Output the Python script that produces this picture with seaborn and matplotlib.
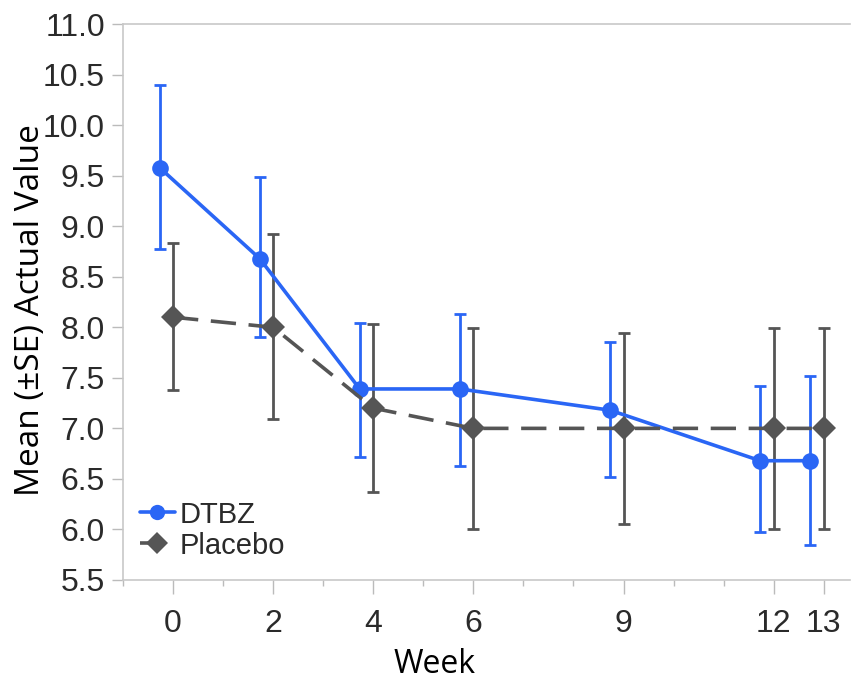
import numpy as np
import pandas as pd
import matplotlib
matplotlib.use("Agg")
import matplotlib.pyplot as plt
import seaborn as sns

# datos
weeks = [0, 2, 4, 6, 9, 12, 13]
dtbz_mean = [9.58, 8.68, 7.39, 7.39, 7.18, 6.68, 6.68]
dtbz_low = [8.77, 7.90, 6.72, 6.63, 6.52, 5.97, 5.85]
dtbz_high = [10.40, 9.49, 8.04, 8.13, 7.85, 7.42, 7.52]
placebo_mean = [8.10, 8.00, 7.20, 7.00, 7.00, 7.00, 7.00]
placebo_low = [7.38, 7.09, 6.37, 6.00, 6.05, 6.00, 6.00]
placebo_high = [8.83, 8.92, 8.03, 7.99, 7.94, 7.99, 7.99]
tick_labels = ["0", "2", "4", "6", "9", "12", "13"]

blue = "#2a66f5"
grey = "#555555"
offset = -0.27

sns.set_theme(style="white")
plt.rcParams['font.family'] = ['Liberation Sans', 'DejaVu Sans']

df = pd.concat([
    pd.DataFrame({'week': np.array(weeks) + offset, 'value': dtbz_mean, 'group': 'DTBZ'}),
    pd.DataFrame({'week': np.array(weeks, dtype=float), 'value': placebo_mean, 'group': 'Placebo'}),
])

fig = plt.figure(figsize=(8.61, 6.88), dpi=100)
ax = fig.add_axes([0.1429, 0.157, 0.844, 0.808])

# barras de error
ax.errorbar(np.array(weeks, dtype=float), placebo_mean,
            yerr=[np.array(placebo_mean) - placebo_low, np.array(placebo_high) - placebo_mean],
            fmt='none', ecolor=grey, elinewidth=2, capsize=4.5, capthick=2, zorder=2)
ax.errorbar(np.array(weeks) + offset, dtbz_mean,
            yerr=[np.array(dtbz_mean) - dtbz_low, np.array(dtbz_high) - dtbz_mean],
            fmt='none', ecolor=blue, elinewidth=2, capsize=4.5, capthick=2, zorder=2)

sns.lineplot(data=df, x='week', y='value', hue='group', style='group',
             palette={'DTBZ': blue, 'Placebo': grey},
             markers={'DTBZ': 'o', 'Placebo': 'D'},
             dashes={'DTBZ': '', 'Placebo': (7, 3.5)},
             markersize=12, markeredgewidth=0, linewidth=2.6, ax=ax, zorder=3)

ax.set_xlim(-1, 13.52)
ax.set_ylim(5.5, 11.0)
ax.set_yticks(np.arange(5.5, 11.01, 0.5))
ax.set_yticklabels([f"{v:.1f}" for v in np.arange(5.5, 11.01, 0.5)])
ax.set_xticks(weeks)
ax.set_xticklabels(tick_labels)
ax.set_xticks([w for w in range(-1, 14) if w not in weeks], minor=True)

ax.tick_params(axis='both', which='major', labelsize=23, colors='#bbbbbb')
ax.tick_params(axis='y', which='major', direction='out', length=8, width=1, left=True, pad=5,
               labelcolor='#2a2a2a')
ax.tick_params(axis='x', which='major', direction='out', length=10, width=1, bottom=True, pad=11,
               labelcolor='#2a2a2a')
ax.tick_params(axis='x', which='minor', direction='out', length=4, width=1, bottom=True, color='#bbbbbb')

for side in ['left', 'bottom', 'top']:
    ax.spines[side].set_color('#c8c8c8')
    ax.spines[side].set_linewidth(1.2)
ax.spines['right'].set_visible(False)

ax.set_xlabel('')
ax.set_ylabel('')
fig.text(0.505, 0.034, 'Week', fontsize=23, ha='center', va='center', color='black',
         family=['Open Sans', 'DejaVu Sans'])
fig.text(0.036, 0.55, 'Mean (±SE) Actual Value', rotation=90, fontsize=24,
         ha='center', va='center', color='black', family=['Open Sans', 'DejaVu Sans'])

handles, labels = ax.get_legend_handles_labels()
for h in handles:
    h.set_markersize(11)
leg = ax.legend(handles, labels, loc='lower left', bbox_to_anchor=(-0.005, 0.0), frameon=False,
                fontsize=21, handlelength=1.2, handletextpad=0.15, labelspacing=0.1, borderaxespad=0.3)
for t in leg.get_texts():
    t.set_color('#2a2a2a')

fig.savefig('out.png', dpi=100)
